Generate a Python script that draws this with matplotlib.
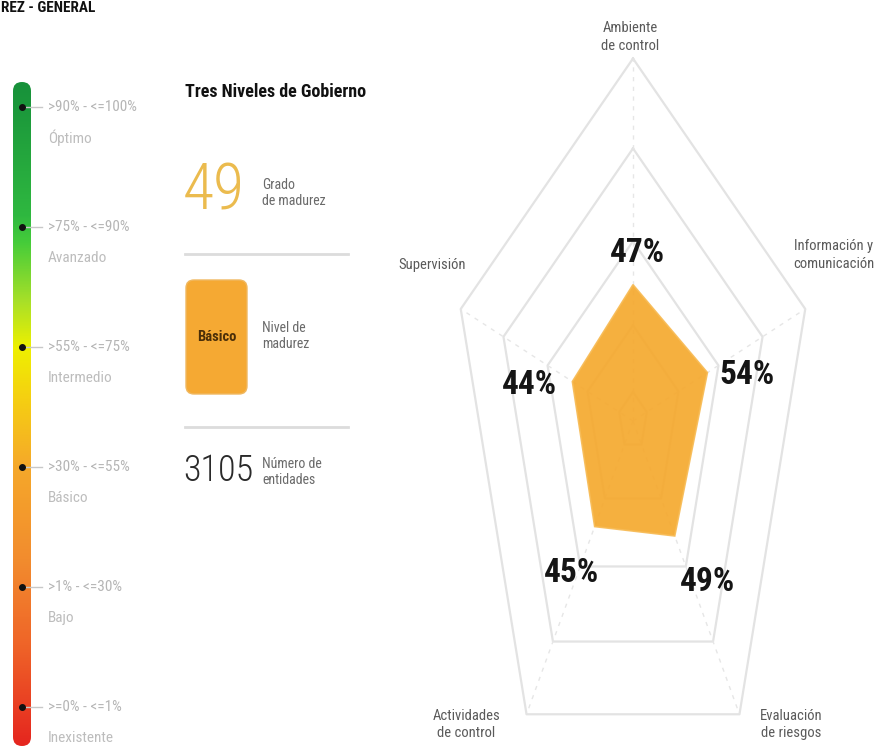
import matplotlib
matplotlib.use("Agg")
import matplotlib.pyplot as plt
import numpy as np
from matplotlib import font_manager
from matplotlib.colors import LinearSegmentedColormap
from matplotlib.patches import FancyBboxPatch

# --- data -------------------------------------------------------------
axis_labels = [
    "Ambiente\nde control",
    "Información y\ncomunicación",
    "Evaluación\nde riesgos",
    "Actividades\nde control",
    "Supervisión",
]
scores = [47, 54, 49, 45, 44]
ring_levels = [10, 33, 62, 94, 125]

level_ranges = [">90% - <=100%", ">75% - <=90%", ">55% - <=75%",
                ">30% - <=55%", ">1% - <=30%", ">=0% - <=1%"]
level_names = ["Óptimo", "Avanzado", "Intermedio", "Básico", "Bajo", "Inexistente"]

header = "REZ - GENERAL"   # only the tail of the header is visible in the source
panel_title = "Tres Niveles de Gobierno"
maturity_grade = 49
maturity_level = "Básico"
entity_count = 3105

# --- fonts: prefer a narrow family if one is installed -----------------
available = {f.name for f in font_manager.fontManager.ttflist}
NARROW = "DejaVu Sans"
for cand in ["Liberation Sans Narrow", "Roboto Condensed", "DejaVu Sans Condensed",
             "Open Sans Condensed", "Liberation Sans"]:
    if cand in available:
        NARROW = cand
        break
plt.rcParams["font.family"] = [NARROW, "DejaVu Sans"]

W, H = 878, 749
fig = plt.figure(figsize=(W / 100, H / 100), dpi=100)
fig.patch.set_facecolor("white")

# pixel-space axes for the left panels
bg = fig.add_axes([0, 0, 1, 1])
bg.set_xlim(0, W)
bg.set_ylim(H, 0)
bg.axis("off")

bg.text(1, 1, header, ha="left", va="top", fontsize=11,
        fontweight="bold", color="#111111")

# gradient scale
bar_top, bar_bot, bar_x0, bar_w = 82, 746, 13, 18
stops = [
    (0.00, "#17913a"), (0.20, "#2fb840"), (0.24, "#45cc3a"), (0.33, "#a8e028"),
    (0.40, "#eef000"), (0.47, "#f5d210"), (0.58, "#f5a82a"), (0.72, "#f28c2e"),
    (0.85, "#ef6428"), (1.00, "#e5261f"),
]
scale_cmap = LinearSegmentedColormap.from_list("maturity", stops)
grad = np.linspace(0, 1, 256).reshape(-1, 1)
im = bg.imshow(grad, extent=(bar_x0, bar_x0 + bar_w, bar_bot, bar_top),
               origin="upper", aspect="auto", cmap=scale_cmap, zorder=2)
clip = FancyBboxPatch((bar_x0, bar_top), bar_w, bar_bot - bar_top,
                      boxstyle="round,pad=0,rounding_size=9",
                      transform=bg.transData, facecolor="none", edgecolor="none")
bg.add_patch(clip)
im.set_clip_path(clip)

dot_y = 107 + 120 * np.arange(len(level_ranges))
for y, rng_txt, name in zip(dot_y, level_ranges, level_names):
    bg.plot([24, 42], [y, y], color="#c8c8c8", lw=1, zorder=3)
    bg.plot(22, y, "o", color="#111111", ms=4, zorder=4)
    bg.text(48, y, rng_txt, ha="left", va="center", fontsize=11, color="#b5b5b5")
    bg.text(48, y + 31, name, ha="left", va="center", fontsize=11, color="#bdbdbd")

# summary panel
bg.text(185, 92, panel_title, ha="left", va="center", fontsize=13,
        fontweight="bold", color="#111111")
bg.text(183, 192, str(maturity_grade), ha="left", va="center", fontsize=46,
        color="#ebbb4e", fontweight="light")
bg.text(262, 193, "Grado\nde madurez", ha="left", va="center", fontsize=10,
        color="#6a6a6a", linespacing=1.25)
bg.plot([185, 348], [254, 254], color="#dcdcdc", lw=2)
box = FancyBboxPatch((186, 280), 61, 114, boxstyle="round,pad=0,rounding_size=8",
                     facecolor="#f5a933", edgecolor="#f0b860", lw=1)
bg.add_patch(box)
bg.text(216.5, 337, maturity_level, ha="center", va="center", fontsize=10.5,
        fontweight="bold", color="#4a2e08")
bg.text(262, 336, "Nivel de\nmadurez", ha="left", va="center", fontsize=10,
        color="#6a6a6a", linespacing=1.25)
bg.plot([185, 348], [427, 427], color="#dcdcdc", lw=2)
bg.text(183, 471, str(entity_count), ha="left", va="center", fontsize=26,
        color="#2a2a2a", fontweight="light")
bg.text(262, 472, "Número de\nentidades", ha="left", va="center", fontsize=10,
        color="#6a6a6a", linespacing=1.25)

# --- radar chart (cartesian axes, stretched vertically like the reference)
CX, CY = 633, 421          # pixel position of the centre
SX, SY = 1.449, 2.9        # pixels per percent point
ax = fig.add_axes([(CX - 150 * SX) / W, 0, 300 * SX / W, 1])
ax.set_xlim(-150, 150)
ax.set_ylim(-(H - CY) / SY, CY / SY)
ax.axis("off")

angles = np.pi / 2 - 2 * np.pi * np.arange(len(scores)) / len(scores)
ca, sa = np.cos(angles), np.sin(angles)
closed = lambda v: np.append(v, v[0])

for lv in ring_levels:
    ax.plot(closed(lv * ca), closed(lv * sa), color="#e3e3e3", lw=1.6, zorder=1)
r_out = ring_levels[-1]
for c, s in zip(ca, sa):
    ax.plot([0, r_out * c], [0, r_out * s], color="#e6e6e6", lw=1,
            ls=(0, (3, 4)), zorder=1)

vals = np.array(scores, dtype=float)
ax.fill(closed(vals * ca), closed(vals * sa), facecolor="#f5a92e", alpha=0.92,
        edgecolor="#f7bb55", lw=1.2, zorder=2)

pct_offsets = [(4, 32), (40, -2), (33, -46), (-23, -46), (-43, -3)]
for v, c, s, (dx, dy) in zip(vals, ca, sa, pct_offsets):
    ax.annotate(f"{int(v)}%", xy=(v * c, v * s), xytext=(dx * 0.72, dy * 0.72),
                textcoords="offset points", ha="center", va="center",
                fontsize=24, fontweight="bold", color="#151515", zorder=5)

lab_style = [  # (dx px, dy px, ha, va)
    (-3, 6, "center", "bottom"),
    (69, 54, "right", "center"),
    (52, -10, "center", "center"),
    (-60, -10, "center", "center"),
    (-29, 44, "center", "center"),
]
for lab, c, s, (dx, dy, ha, va) in zip(axis_labels, ca, sa, lab_style):
    ax.annotate(lab, xy=(r_out * c, r_out * s), xytext=(dx * 0.72, dy * 0.72),
                textcoords="offset points", ha=ha, va=va, multialignment="center",
                fontsize=10.5, color="#5a5a5a", linespacing=1.3,
                annotation_clip=False)

fig.savefig("out.png", dpi=100, facecolor="white")
